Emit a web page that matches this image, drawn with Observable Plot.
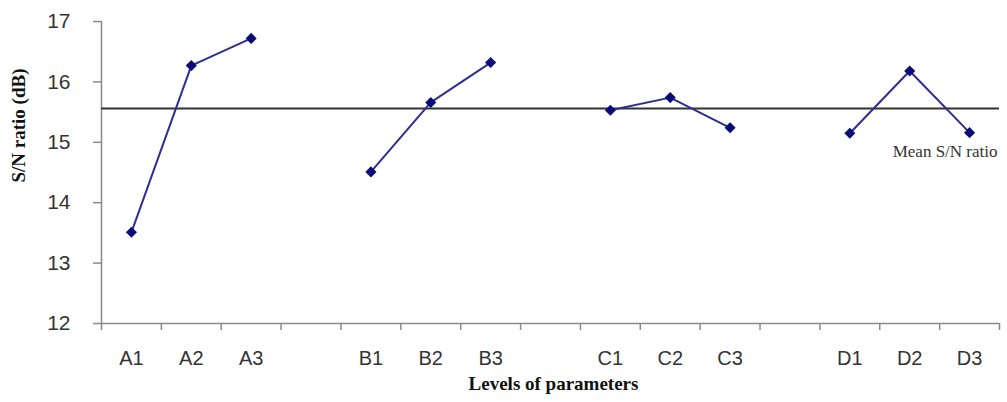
<!DOCTYPE html>
<html>
<head>
<meta charset="utf-8">
<script src="https://cdn.jsdelivr.net/npm/d3@7"></script>
<script src="https://cdn.jsdelivr.net/npm/@observablehq/plot@0.6"></script>
<style>
  html, body { margin: 0; padding: 0; background: #fff; }
  #chart { width: 1007px; height: 402px; }
</style>
</head>
<body>
<div id="chart"></div>
<script>
// ---- data ----
const parameters = ["A", "B", "C", "D"];
const levelNames = ["1", "2", "3"];
const aValues = [13.51, 16.27, 16.72];
const bValues = [14.51, 15.66, 16.32];
const cValues = [15.53, 15.74, 15.24];
const dValues = [15.15, 16.18, 15.16];
const meanSN = 15.56;
const yTicks = [12, 13, 14, 15, 16, 17];
const meanLabel = "Mean S/N ratio";
const xTitle = "Levels of parameters";
const yTitle = "S/N ratio (dB)";

// ---- build records: each parameter occupies 3 slots + 1 empty slot ----
const seriesValues = [aValues, bValues, cValues, dValues];
const slotsPerGroup = levelNames.length + 1;
const totalSlots = parameters.length * slotsPerGroup - 1;
const records = [];
parameters.forEach((p, gi) => {
  seriesValues[gi].forEach((v, li) => {
    records.push({group: p, label: p + levelNames[li], slot: gi * slotsPerGroup + li + 0.5, value: v});
  });
});
const labelOf = new Map(records.map(r => [r.slot, r.label]));
const centers = records.map(r => r.slot);
const boundaries = d3.range(0, totalSlots + 1);
const lastD = records.filter(r => r.group === "D");
const meanLabelSlot = lastD[1].slot;

const sans = "'Liberation Sans', Arial, Helvetica, sans-serif";
const serif = "'Liberation Serif', 'Times New Roman', serif";
const axisGrey = "#8a8a8a";

const chart = Plot.plot({
  width: 1007,
  height: 402,
  marginLeft: 101,
  marginRight: 8,
  marginTop: 21,
  marginBottom: 79,
  style: {background: "#fff", overflow: "visible"},
  x: {domain: [0, totalSlots], axis: null},
  y: {domain: [yTicks[0], yTicks[yTicks.length - 1]], axis: null},
  marks: [
    // axis lines
    Plot.ruleY([yTicks[0]], {x1: 0, x2: totalSlots, stroke: axisGrey, strokeWidth: 1.5}),
    Plot.ruleX([0], {y1: yTicks[0], y2: yTicks[yTicks.length - 1], stroke: axisGrey, strokeWidth: 1.5}),
    // y axis ticks + labels
    Plot.axisY({ticks: yTicks, tickSize: 8, tickPadding: 23, tickFormat: d => String(d), stroke: axisGrey, fill: "#333",
      fontSize: 21, fontFamily: sans, label: null, strokeWidth: 1.5}),
    // x boundary ticks (no text)
    Plot.axisX({ticks: boundaries, tickSize: 7, tickFormat: () => "", stroke: axisGrey, strokeWidth: 1.5, label: null}),
    // x category labels at slot centres
    Plot.axisX({ticks: centers, tickSize: 0, tickPadding: 27, tickFormat: d => labelOf.get(d),
      fill: "#333", fontSize: 20, fontFamily: sans, label: null}),
    // mean line
    Plot.ruleY([meanSN], {x1: 0, x2: totalSlots, stroke: "#333", strokeWidth: 2}),
    Plot.text([meanSN], {x: () => meanLabelSlot, y: d => d, text: () => meanLabel, textAnchor: "start",
      dx: -17, dy: 43, fontFamily: serif, fontSize: 17, fill: "#333"}),
    // series
    Plot.line(records, {x: "slot", y: "value", z: "group", stroke: "#2e2e92", strokeWidth: 2}),
    Plot.dot(records, {x: "slot", y: "value", symbol: "diamond2", r: 5, fill: "#0b0b78", stroke: "none"}),
    // titles
    Plot.text([yTitle], {frameAnchor: "left", rotate: -90, dx: -83, dy: 10, text: d => d,
      fontWeight: "bold", fontFamily: serif, fontSize: 19, fill: "#111"}),
    Plot.text([xTitle], {frameAnchor: "bottom", dx: 3, dy: 66, text: d => d,
      fontWeight: "bold", fontFamily: serif, fontSize: 19, fill: "#111"})
  ]
});
document.getElementById("chart").appendChild(chart);
</script>
</body>
</html>
